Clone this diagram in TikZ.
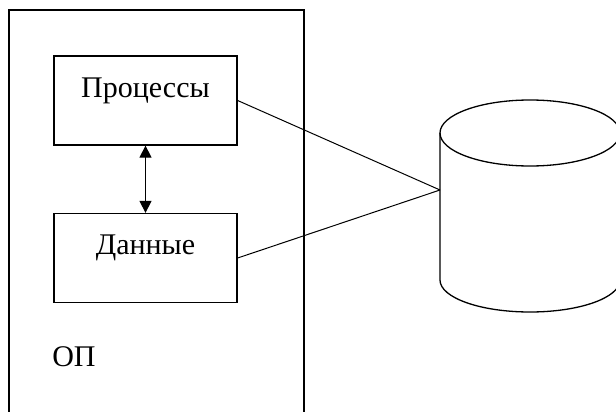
\documentclass[tikz,border=0pt]{standalone}
\usepackage{fontspec}
\setmainfont{Liberation Serif}
\usetikzlibrary{arrows.meta}

\begin{document}
\begin{tikzpicture}[x=1pt, y=-1pt, line width=1.3pt,
		font=\rmfamily\fontsize{30}{34}\selectfont,
		box/.style={draw, minimum width=183pt, minimum height=89pt, text height=20pt, text depth=27pt}]
			%%%%% START %%%%%
			\clip (0, 0) rectangle (616, 412);
			
			\draw (9, 10) rectangle (304, 430);
			\node (op) at (74, 357) {ОП};
			
			\node[box] (proc) at (145.5, 100.5) {Процессы};
			\node[box] (data) at (145.5, 258) {Данные};
			\draw[{Triangle[length=12pt,width=12pt]}-{Triangle[length=12pt,width=12pt]}] (proc.south) -- (data.north);
			
			\draw (440, 133) -- (440, 280) arc (180:0:90 and 32) -- (620, 133);
			\draw (530, 133) ellipse (90 and 33);
			\coordinate (db) at (440, 190);
			
			\draw[line width=1pt] (proc.east) -- (db);
			\draw[line width=1pt] (data.east) -- (db);
			%%%%% END %%%%%
		\end{tikzpicture}
\end{document}
